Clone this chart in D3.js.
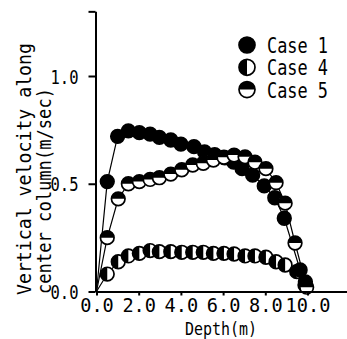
<!DOCTYPE html>
<html><head><meta charset="utf-8">
<script src="https://cdn.jsdelivr.net/npm/d3@7"></script>
<style>
html,body{margin:0;padding:0;background:#fff;}
text{font-family:"DejaVu Sans Mono",monospace;fill:#000;}
</style></head>
<body><svg id="c" width="347" height="339"></svg>
<script>
// ---- data (depth in m, vertical velocity in m/s) ----
const case1Depth = [0, 0.51, 1.0, 1.51, 2.03, 2.54, 2.98, 3.52, 4.0, 4.62, 5.12, 5.6, 6.08, 6.5, 6.9, 7.4, 7.95, 8.45, 8.9, 9.65, 9.9];
const case1Vel   = [0, 0.51, 0.72, 0.745, 0.737, 0.73, 0.715, 0.703, 0.684, 0.672, 0.648, 0.635, 0.62, 0.60, 0.57, 0.54, 0.49, 0.435, 0.34, 0.10, 0.045];
const case4Depth = [0, 0.51, 1.03, 1.51, 2.03, 2.54, 2.98, 3.52, 4.04, 4.56, 5.06, 5.54, 6.04, 6.52, 7.04, 7.51, 8.03, 8.51, 8.94, 9.49, 9.88];
const case4Vel   = [0, 0.081, 0.138, 0.165, 0.177, 0.19, 0.185, 0.185, 0.182, 0.182, 0.182, 0.177, 0.177, 0.174, 0.165, 0.165, 0.159, 0.138, 0.123, 0.092, 0.03];
const case5Depth = [0, 0.51, 1.03, 1.51, 2.03, 2.54, 2.98, 3.52, 4.04, 4.56, 5.06, 5.54, 6.04, 6.52, 7.04, 7.51, 8.03, 8.51, 8.94, 9.41, 9.96];
const case5Vel   = [0, 0.25, 0.43, 0.50, 0.51, 0.52, 0.528, 0.545, 0.565, 0.587, 0.595, 0.61, 0.623, 0.633, 0.625, 0.60, 0.57, 0.505, 0.41, 0.225, 0.02];
const seriesNames = ["Case 1", "Case 4", "Case 5"];
const xTicks = [0, 2, 4, 6, 8, 10];
const xTickLabels = ["0.0", "2.0", "4.0", "6.0", "8.0", "10.0"];
const yTicks = [0, 0.5, 1.0, 1.3];
const yTickLabels = ["0.0", "0.5", "1.0", ""];
const xTitle = "Depth(m)";
const yTitleLines = ["Vertical velocity along", "center column(m/sec)"];

const svg = d3.select("#c");
const x = d3.scaleLinear().domain([0, 12]).range([96.5, 96.5 + 12 * 21.1]);
const y = d3.scaleLinear().domain([0, 1.3]).range([291.5, 291.5 - 1.3 * 215.5]);
const R = 6.8;

const series = [
  {name: seriesNames[0], type: "full", d: case1Depth, v: case1Vel},
  {name: seriesNames[1], type: "left", d: case4Depth, v: case4Vel},
  {name: seriesNames[2], type: "top",  d: case5Depth, v: case5Vel}
];

function drawMarker(g, type, r) {
  g.append("circle").attr("r", r).attr("fill", type === "full" ? "#000" : "#fff")
    .attr("stroke", "#000").attr("stroke-width", 1.7);
  if (type === "left") {
    g.append("path").attr("d", `M0,${-r}A${r},${r} 0 0 0 0,${r}Z`).attr("fill", "#000");
  } else if (type === "top") {
    g.append("path").attr("d", `M${-r},0A${r},${r} 0 0 1 ${r},0Z`).attr("fill", "#000");
  }
}

// lines
const line = d3.line().x(p => x(p[0])).y(p => y(p[1]));
const drawOrder = [1, 0, 2];
drawOrder.forEach(i => {
  const s = series[i];
  const pts = s.d.map((d, k) => [d, s.v[k]]);
  svg.append("path").datum(pts).attr("d", line).attr("fill", "none")
    .attr("stroke", "#000").attr("stroke-width", 1.2);
});
// markers
drawOrder.forEach(i => {
  const s = series[i];
  const pts = s.d.map((d, k) => [d, s.v[k]]).filter(p => p[0] > 0);
  pts.forEach(p => {
    const g = svg.append("g").attr("transform", `translate(${x(p[0])},${y(p[1])})`);
    drawMarker(g, s.type, R);
  });
});

// axes
const xAxis = svg.append("g").attr("transform", `translate(0,${y(0)})`)
  .call(d3.axisBottom(x).tickValues(xTicks).tickSize(4).tickSizeOuter(0)
    .tickFormat((d, i) => xTickLabels[i]));
xAxis.selectAll(".tick text").attr("y", 20).attr("dy", 0)
  .style("font-size", "20px")
  .attr("textLength", (d, i) => xTickLabels[i].length * 11.2)
  .attr("lengthAdjust", "spacingAndGlyphs");
const yAxis = svg.append("g").attr("transform", `translate(${x(0) - 1},0)`)
  .call(d3.axisLeft(y).tickValues(yTicks).tickSize(7).tickSizeOuter(0).tickPadding(10)
    .tickFormat((d, i) => yTickLabels[i]));
yAxis.selectAll(".tick text").style("font-size", "20px").attr("dy", "0.36em")
  .attr("textLength", (d, i) => yTickLabels[i].length ? 28 : null)
  .attr("lengthAdjust", "spacingAndGlyphs");
svg.selectAll(".domain").attr("stroke-width", 2);
svg.selectAll(".tick line").attr("stroke-width", 2);

// axis titles
svg.append("text").attr("x", 221).attr("y", 335).attr("text-anchor", "middle")
  .style("font-size", "18px").attr("textLength", 72).attr("lengthAdjust", "spacingAndGlyphs")
  .text(xTitle);
const yT = svg.append("g").attr("transform", "rotate(-90)");
yT.append("text").attr("x", -295).attr("y", 31).style("font-size", "20px")
  .attr("textLength", 252).attr("lengthAdjust", "spacingAndGlyphs").text(yTitleLines[0]);
yT.append("text").attr("x", -294).attr("y", 51).style("font-size", "20px")
  .attr("textLength", 206).attr("lengthAdjust", "spacingAndGlyphs").text(yTitleLines[1]);

// legend
series.forEach((s, i) => {
  const cy = 45 + i * 22.3;
  const g = svg.append("g").attr("transform", `translate(247,${cy})`);
  drawMarker(g, s.type, 8);
  svg.append("text").attr("x", 267).attr("y", cy + 8).style("font-size", "21px")
    .attr("textLength", 61).attr("lengthAdjust", "spacingAndGlyphs").text(s.name);
});
</script></body></html>
